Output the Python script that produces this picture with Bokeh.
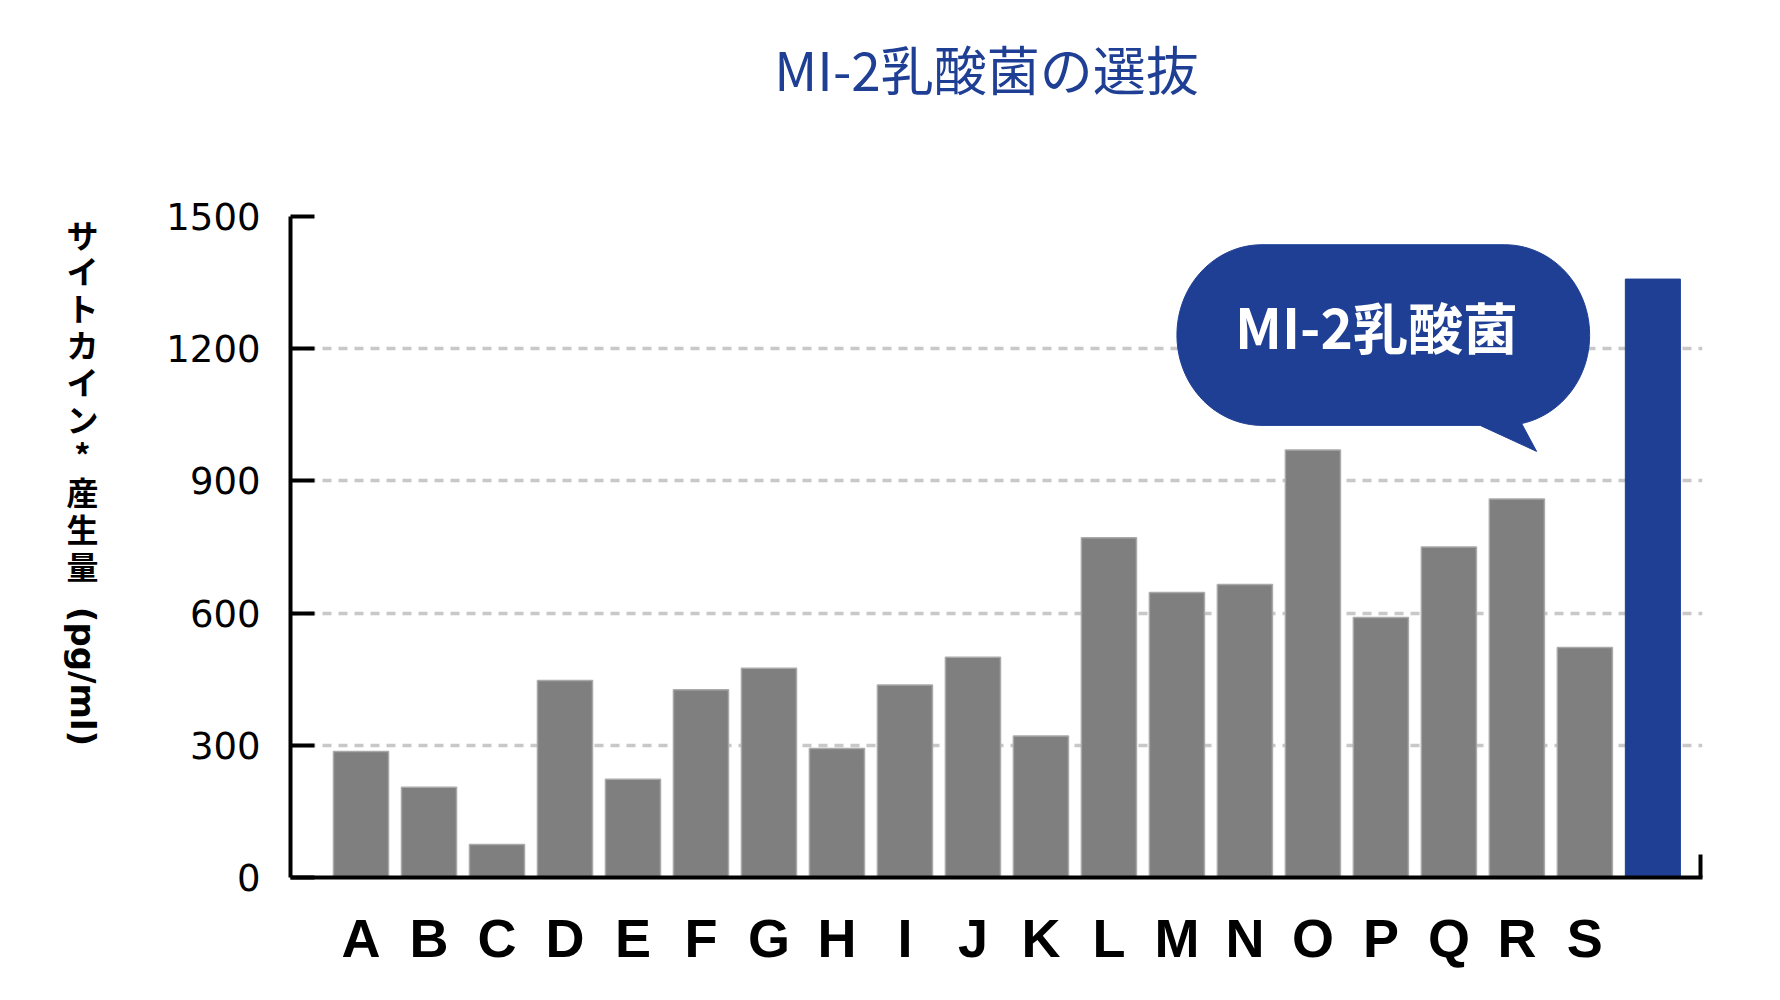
import numpy as np
from bokeh.plotting import figure
from bokeh.layouts import column, row
from bokeh.models import Range1d, FixedTicker, Label, ColumnDataSource
from bokeh.core.properties import value
from bokeh.embed import file_html
from bokeh.resources import INLINE

# ---------------- data ----------------
categories = ["A", "B", "C", "D", "E", "F", "G", "H", "I", "J",
              "K", "L", "M", "N", "O", "P", "Q", "R", "S"]
values = [286, 205, 75, 447, 223, 426, 475, 293, 437, 500,
          321, 771, 647, 665, 970, 590, 750, 859, 522]
highlight_name = "MI-2乳酸菌"
highlight_value = 1358
y_ticks = [0, 300, 600, 900, 1200, 1500]
grid_ticks = [300, 600, 900, 1200]
title_text = "MI-2乳酸菌の選抜"
ylabel_main = "サイトカイン*産生量"
ylabel_unit = "(pg/ml)"

# ---------------- styles / layout ----------------
GRAY = "#7f7f7f"
BLUE = "#1f3f95"
JP = "Noto Sans CJK JP"

TOTAL_W, TOTAL_H = 1760, 980
TITLE_H = 140          # strip holding the title
LEFT_W = 150           # strip holding the vertical y label
MAIN_W = TOTAL_W - LEFT_W
MAIN_H = TOTAL_H - TITLE_H
FRAME_TOP, FRAME_BOTTOM = 216, 877   # page y of the plot frame
BL, BR, BT = 290 - LEFT_W, TOTAL_W - 1702, FRAME_TOP - TITLE_H
FRAME_H = FRAME_BOTTOM - FRAME_TOP
BB = MAIN_H - BT - FRAME_H
frame_w = MAIN_W - BL - BR

x_start, x_end = -1.037, 19.73
y_start, y_end = 0, 1500
px_x = frame_w / (x_end - x_start)
px_y = FRAME_H / (y_end - y_start)


def blank(w, h, xr, yr, **kw):
    f = figure(width=w, height=h, x_range=Range1d(*xr), y_range=Range1d(*yr),
               x_axis_type=None, y_axis_type=None, output_backend="svg",
               toolbar_location=None, **kw)
    f.outline_line_color = None
    f.grid.visible = False
    f.background_fill_color = "white"
    f.border_fill_color = "white"
    return f


# ---------------- title strip ----------------
pt = blank(TOTAL_W, TITLE_H, (0, TOTAL_W), (0, TITLE_H), min_border=0)
pt.text(x=[986], y=[TITLE_H - 67], text=[title_text], text_align="center",
        text_baseline="middle", text_color=BLUE, text_font=value(JP),
        text_font_size="53px")

# ---------------- y label strip (frame aligned with main frame) ----------------
pl = blank(LEFT_W, MAIN_H, (0, LEFT_W), (TOTAL_H - FRAME_BOTTOM, TOTAL_H - FRAME_TOP),
           min_border_left=0, min_border_right=0,
           min_border_top=BT, min_border_bottom=BB)
page = lambda page_y: TOTAL_H - page_y
pl.text(x=[82], y=[page(210)], text=["\n".join(list(ylabel_main))],
        text_align="center", text_baseline="top", text_line_height=0.80,
        text_color="black", text_font=value(JP), text_font_style="bold",
        text_font_size="32px")
pl.text(x=[82], y=[page(676)], text=[ylabel_unit], angle=-np.pi / 2,
        text_align="center", text_baseline="middle", text_color="black",
        text_font=value("DejaVu Sans"), text_font_style="bold",
        text_font_size="34px")

# ---------------- main chart ----------------
p = figure(width=MAIN_W, height=MAIN_H,
           x_range=Range1d(x_start, x_end), y_range=Range1d(y_start, y_end),
           output_backend="svg", toolbar_location=None,
           min_border_left=BL, min_border_right=BR,
           min_border_top=BT, min_border_bottom=BB)
p.outline_line_color = None
p.background_fill_color = "white"
p.border_fill_color = "white"

p.xgrid.visible = False
p.ygrid.ticker = FixedTicker(ticks=grid_ticks)
p.ygrid.grid_line_color = "#c8c8c8"
p.ygrid.grid_line_width = 3.5
p.ygrid.grid_line_dash = "9 7"

n = len(categories)
src = ColumnDataSource(dict(x=list(range(n)), top=values, name=categories))
p.vbar(x="x", top="top", bottom=0, width=0.81, source=src,
       fill_color=GRAY, line_color="#a9a9a9", line_width=1.5)
hsrc = ColumnDataSource(dict(x=[n], top=[highlight_value], name=[highlight_name]))
p.vbar(x="x", top="top", bottom=0, width=0.81, source=hsrc,
       fill_color=BLUE, line_color=BLUE, line_width=1)

xa = p.xaxis[0]
xa.ticker = FixedTicker(ticks=list(range(n)), minor_ticks=[x_end - 2.0 / px_x])
xa.major_label_overrides = {i: c for i, c in enumerate(categories)}
xa.axis_line_width = 4
xa.axis_line_color = "black"
xa.major_tick_in = 0
xa.major_tick_out = 0
xa.minor_tick_in = 23
xa.minor_tick_out = 0
xa.minor_tick_line_width = 4
xa.minor_tick_line_color = "black"
xa.major_label_standoff = 30
xa.major_label_text_font = "Liberation Sans"
xa.major_label_text_font_style = "bold"
xa.major_label_text_font_size = "54px"
xa.major_label_text_color = "black"

ya = p.yaxis[0]
ya.ticker = FixedTicker(ticks=y_ticks, minor_ticks=[])
ya.axis_line_width = 4
ya.axis_line_color = "black"
ya.major_tick_in = 24
ya.major_tick_out = 0
ya.major_tick_line_width = 4
ya.major_tick_line_color = "black"
ya.minor_tick_in = 0
ya.minor_tick_out = 0
ya.major_label_standoff = 30
ya.major_label_text_font = "DejaVu Sans"
ya.major_label_text_font_size = "37px"
ya.major_label_text_color = "black"

# ---------------- speech bubble (decoration) ----------------
b_left, b_right = 12.0, 18.07
b_top, b_bottom = 1436, 1026
rx = 85 / px_x
ry = 90 / px_y
tail_l = 16.46
tail_tip = (17.29, 967)
tail_r = 17.07


def arc(cx, cy, a0, a1, k=24):
    t = np.radians(np.linspace(a0, a1, k))
    return list(cx + rx * np.cos(t)), list(cy + ry * np.sin(t))


bx, by = [], []
for cx, cy, a0, a1 in [(b_right - rx, b_top - ry, 0, 90),
                       (b_left + rx, b_top - ry, 90, 180),
                       (b_left + rx, b_bottom + ry, 180, 270)]:
    ax_, ay_ = arc(cx, cy, a0, a1)
    bx += ax_
    by += ay_
bx += [tail_l, tail_tip[0]]
by += [b_bottom, tail_tip[1]]
cbr = b_right - rx
th0 = -np.degrees(np.arccos(np.clip((tail_r - cbr) / rx, -1, 1)))
ax_, ay_ = arc(cbr, b_bottom + ry, th0, 0)
bx += ax_
by += ay_
p.patch(bx, by, fill_color=BLUE, line_color=BLUE, line_width=1)

p.add_layout(Label(x=(b_left + b_right) / 2 - 0.1, y=(b_top + b_bottom) / 2 + 22,
                   text=highlight_name, text_align="center", text_baseline="middle",
                   text_color="white", text_font=JP, text_font_style="bold",
                   text_font_size="55px"))

layout = column(pt, row(pl, p, spacing=0), spacing=0)
open("out.html", "w").write(file_html(layout, INLINE))
